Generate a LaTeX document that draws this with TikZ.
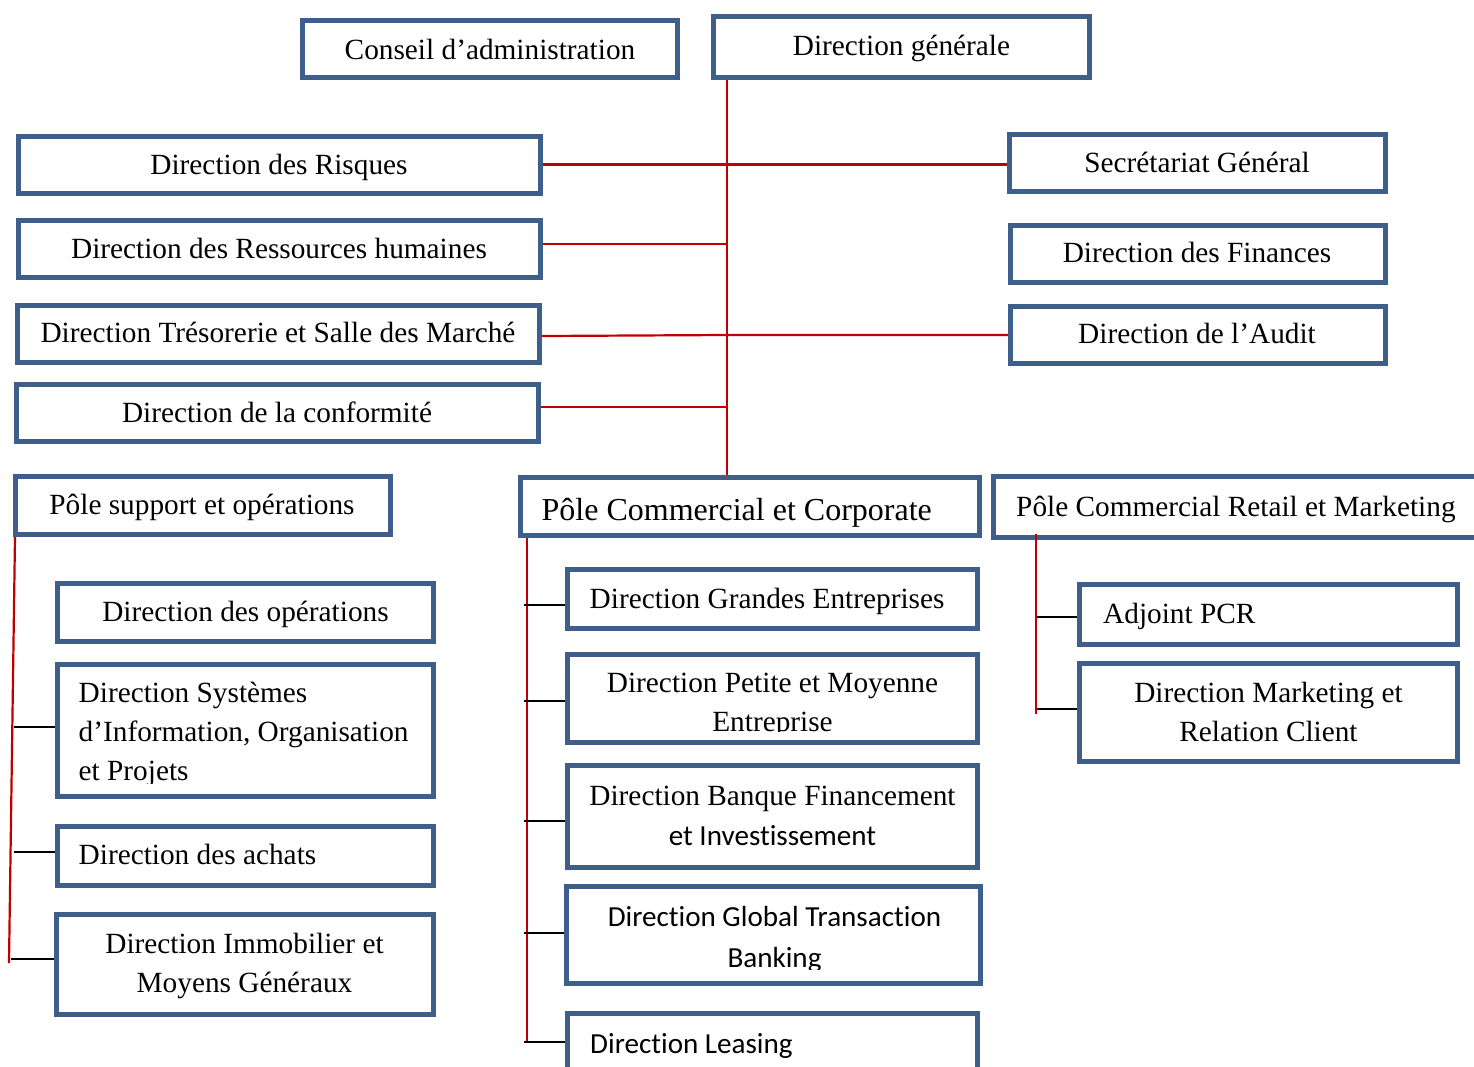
\documentclass[tikz,border=0pt]{standalone}
\usepackage{fontspec}
\setmainfont{Liberation Serif}
\newfontfamily\carl[Ligatures=NoCommon]{Carlito}
\definecolor{boxblue}{HTML}{3E5F8A}
\definecolor{linered}{HTML}{C00000}
\tikzset{
  box/.style={draw=boxblue, line width=4.6pt, fill=white, inner sep=0pt},
  lbl/.style={font=\fontsize{29.3}{39}\selectfont, inner sep=0pt, anchor=base, text=black},
  lblc/.style={font=\fontsize{29.1}{41}\selectfont\carl, inner sep=0pt, anchor=base, text=black},
  redl/.style={draw=linered, line width=2.2pt},
  tickl/.style={draw=black, line width=2pt}
}
\newcommand\orgbox[5]{\node[box, minimum width={#4-#2-4.6}, minimum height={#5-#3-4.6}] (#1) at ({(#2+#4)/2},{(#3+#5)/2}) {};}
\begin{document}
\begin{tikzpicture}[x=1pt,y=-1pt]
\clip (0,0) rectangle (1474,1066);
\fill[white] (0,0) rectangle (1474,1066);

\coordinate (tx) at (727,0);

% boxes
\orgbox{CA}{300}{18}{680}{80}
\orgbox{DG}{711}{14}{1092}{80}
\orgbox{DR}{16}{134}{543}{196}
\orgbox{DRH}{16}{218}{543}{280}
\orgbox{DTS}{15}{303}{542}{365}
\orgbox{DC}{14}{382}{541}{444}
\orgbox{SG}{1007}{132}{1388}{194}
\orgbox{DF}{1008}{223}{1388}{285}
\orgbox{DA}{1008}{304}{1388}{366}
\orgbox{PSO}{13}{474}{393}{537}
\orgbox{DO}{55}{581}{436}{644}
\orgbox{DSI}{55}{662}{436}{799}
\orgbox{DAch}{55}{824}{436}{888}
\orgbox{DIM}{54}{912}{436}{1017}
\orgbox{PCC}{518}{475}{982}{538}
\orgbox{DGE}{565}{567}{980}{631}
\orgbox{DPME}{565}{652}{980}{745}
\orgbox{DBFI}{565}{763}{980}{870}
\orgbox{DGTB}{564}{884}{983}{986}
\orgbox{DL}{565}{1011}{980}{1100}
\orgbox{PCRM}{991}{474}{1500}{540}
\orgbox{APCR}{1077}{582}{1460}{647}
\orgbox{DMRC}{1077}{661}{1460}{764}

% labels
\node[lbl] (CA-t) at (490,59.5) {Conseil d’administration};
\node[lbl] (DG-t) at (901.5,55) {Direction générale};
\node[lbl] (DR-t) at (279,174) {Direction des Risques};
\node[lbl] (DRH-t) at (279,258) {Direction des Ressources humaines};
\node[lbl] (DTS-t) at (278,342.5) {Direction Trésorerie et Salle des Marché};
\node[lbl] (DC-t) at (277,422) {Direction de la conformité};
\node[lbl] (SG-t) at (1197,172) {Secrétariat Général};
\node[lbl] (DF-t) at (1197,262.5) {Direction des Finances};
\node[lbl] (DA-t) at (1197,343) {Direction de l’Audit};
\node[lbl] (PSO-t) at (202,514) {Pôle support et opérations};
\node[lbl] (DO-t) at (245.5,621.5) {Direction des opérations};
\begin{scope}
  \clip (57,664) rectangle (434,783);
  \node[lbl, anchor=base west] (DSI-t) at (78.5,702.5) {\begin{tabular}[t]{@{}l@{}}Direction Systèmes\\d’Information, Organisation\\et Projets\end{tabular}};
\end{scope}
\node[lbl, anchor=base west] (DAch-t) at (78.5,864.5) {Direction des achats};
\node[lbl] (DIM-t) at (244.5,953.5) {\begin{tabular}[t]{@{}c@{}}Direction Immobilier et\\Moyens Généraux\end{tabular}};

\node[lbl, anchor=base west, font=\fontsize{32}{39}\selectfont] (PCC-t) at (541.5,520) {Pôle Commercial et Corporate};
\node[lbl, anchor=base west] (DGE-t) at (589.5,608) {Direction Grandes Entreprises};
\begin{scope}
  \clip (567,654) rectangle (978,731);
  \node[lbl] (DPME-t) at (772.5,692.5) {\begin{tabular}[t]{@{}c@{}}Direction Petite et Moyenne\\Entreprise\end{tabular}};
\end{scope}
\node[lbl, font=\fontsize{29.3}{40}\selectfont] (DBFI-t) at (772.5,805.5) {\begin{tabular}[t]{@{}c@{}}Direction Banque Financement\\{\carl\fontsize{29.1}{40}\selectfont et Investissement}\end{tabular}};
\begin{scope}
  \clip (566,886) rectangle (981,969);
  \node[lblc] (DGTB-t) at (774.5,926.5) {\begin{tabular}[t]{@{}c@{}}Direction Global Transaction\\Banking\end{tabular}};
\end{scope}
\node[lblc, anchor=base west] (DL-t) at (590,1053.5) {Direction Leasing};

\node[lbl, anchor=base west] (PCRM-t) at (1016,516.5) {Pôle Commercial Retail et Marketing};
\node[lbl, anchor=base west] (APCR-t) at (1103,623.5) {Adjoint PCR};
\node[lbl] (DMRC-t) at (1268.5,702.5) {\begin{tabular}[t]{@{}c@{}}Direction Marketing et\\Relation Client\end{tabular}};

% main trunk
\draw[redl] (tx |- DG.south) -- (tx |- PCC.north);
\coordinate (drE) at ([yshift=0.5pt]DR.east);
\draw[redl] (drE) -- (drE -| SG.west);
\coordinate (drhE) at ([yshift=5pt]DRH.east);
\draw[redl] (drhE) -- (drhE -| tx);
\coordinate (dtsE) at ([yshift=-2pt]DTS.east);
\draw[redl] (dtsE) -- (tx |- DA.west) -- (DA.west);
\coordinate (dcE) at ([yshift=6pt]DC.east);
\draw[redl] (dcE) -- (dcE -| tx);

% pole support
\coordinate (psoT) at ([xshift=2pt]PSO.south west);
\coordinate (psoE) at (9,963);
\draw[redl] (psoT) -- (psoE);
\draw[tickl] ([yshift=3.5pt]DSI.west) -- ++(-41,0);
\draw[tickl] ([yshift=4pt]DAch.west) -- ++(-41,0);
\draw[tickl] ([yshift=5.5pt]DIM.west) -- ++(-43,0);

% pole commercial et corporate
\coordinate (pccT) at ([xshift=9pt]PCC.south west);
\coordinate (pccE) at (527,1042);
\draw[redl] (pccT) -- (pccE);
\draw[tickl] ([yshift=-6pt]DGE.west) -- ++(-41,0);
\draw[tickl] ([yshift=-2.5pt]DPME.west) -- ++(-41,0);
\draw[tickl] ([yshift=-4.5pt]DBFI.west) -- ++(-41,0);
\draw[tickl] ([yshift=2pt]DGTB.west) -- ++(-40,0);
\draw[tickl] ([yshift=13.5pt]DL.west) -- ++(-41,0);

% pole retail
\coordinate (pcrmT) at ([xshift=45pt,yshift=6pt]PCRM.south west);
\coordinate (pcrmE) at (1036,714);
\draw[redl] (pcrmT) -- (pcrmE);
\draw[tickl] ([yshift=-2.5pt]APCR.west) -- ++(-40,0);
\draw[tickl] ([yshift=3.5pt]DMRC.west) -- ++(-40,0);
\end{tikzpicture}
\end{document}
